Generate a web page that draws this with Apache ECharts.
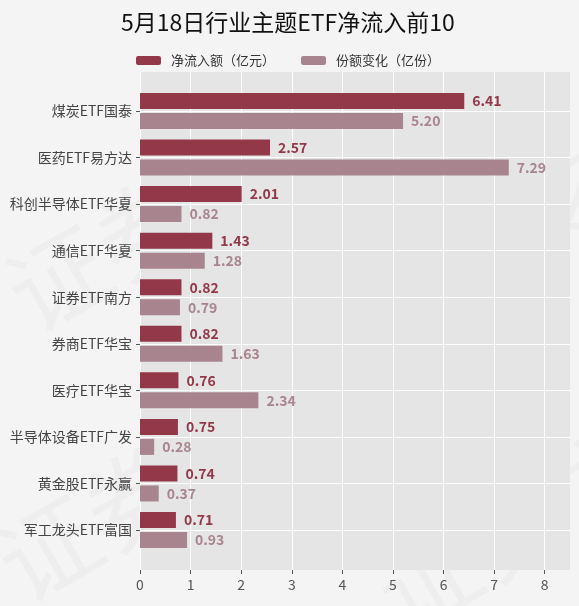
<!DOCTYPE html>
<html>
<head>
<meta charset="utf-8">
<script src="https://cdn.jsdelivr.net/npm/echarts@6/dist/echarts.min.js"></script>
<style>
    html, body { margin: 0; padding: 0; background: #f4f4f4; }
    #chart { width: 579px; height: 606px; }
</style>
</head>
<body>
<div id="chart"></div>
<script>
    const categories = ['煤炭ETF国泰', '医药ETF易方达', '科创半导体ETF华夏', '通信ETF华夏', '证券ETF南方',
        '券商ETF华宝', '医疗ETF华宝', '半导体设备ETF广发', '黄金股ETF永赢', '军工龙头ETF富国'];
    const netInflow = [6.41, 2.57, 2.01, 1.43, 0.82, 0.82, 0.76, 0.75, 0.74, 0.71];
    const shareChange = [5.20, 7.29, 0.82, 1.28, 0.79, 1.63, 2.34, 0.28, 0.37, 0.93];
    const xTicks = [0, 1, 2, 3, 4, 5, 6, 7, 8];

    const darkColor = '#923849';
    const lightColor = '#a8858e';
    const font = '"Noto Sans CJK SC", "Noto Sans", sans-serif';

    const chart = echarts.init(document.getElementById('chart'));

    // faint watermark
    const wm = (x, y) => ({
        type: 'text',
        left: x,
        top: y,
        rotation: Math.PI / 6,
        silent: true,
        z: -10,
        style: { text: '证券之星', font: '100px ' + font, fill: 'rgba(0,0,0,0.025)' }
    });

    const option = {
        backgroundColor: '#f4f4f4',
        textStyle: { fontFamily: font },
        title: {
            text: '5月18日行业主题ETF净流入前10',
            left: 116,
            top: 6,
            textStyle: { fontSize: 23, fontWeight: 'normal', color: '#111', fontFamily: font }
        },
        legend: {
            top: 49,
            left: 131,
            itemWidth: 25,
            itemHeight: 9,
            itemGap: 26,
            textStyle: { fontSize: 13, color: '#333', padding: [0, 0, 0, 5] },
            data: ['净流入额（亿元）', '份额变化（亿份）']
        },
        graphic: [wm(-10, 60), wm(330, 70), wm(-20, 330), wm(360, 360)],
        grid: [
            { left: 140, right: 9, top: 111, bottom: 76, containLabel: false },
            { left: 140, right: 9, top: 72, bottom: 36, show: true, backgroundColor: '#e5e5e5', borderWidth: 0 }
        ],
        xAxis: [
            { gridIndex: 0, type: 'value', min: 0, max: 8.5, show: false },
            {
                gridIndex: 1,
                type: 'value',
                min: 0,
                max: 8.5,
                interval: 1,
                axisLine: { show: false },
                axisTick: { show: true, length: 4, lineStyle: { color: '#555' }, customValues: xTicks },
                axisLabel: { fontSize: 14, color: '#555', margin: 8, customValues: xTicks },
                splitLine: { show: true, lineStyle: { color: '#ffffff', width: 1 } }
            }
        ],
        yAxis: [
            {
                gridIndex: 0,
                type: 'category',
                inverse: true,
                boundaryGap: false,
                data: categories,
                axisLine: { show: false },
                axisTick: { show: true, length: 4, lineStyle: { color: '#555' } },
                axisLabel: { fontSize: 14, color: '#444', margin: 8 },
                splitLine: { show: true, lineStyle: { color: '#ffffff', width: 1 } }
            },
            { gridIndex: 1, type: 'value', min: 0, max: 1, show: false }
        ],
        series: [
            {
                name: '净流入额（亿元）',
                type: 'bar',
                xAxisIndex: 0,
                yAxisIndex: 0,
                clip: false,
                barWidth: 16,
                barGap: '25%',
                itemStyle: { color: darkColor },
                label: {
                    show: true,
                    position: 'right',
                    distance: 8,
                    fontSize: 14,
                    fontWeight: 'bold',
                    color: darkColor,
                    formatter: (p) => p.value.toFixed(2)
                },
                data: netInflow
            },
            {
                name: '份额变化（亿份）',
                type: 'bar',
                xAxisIndex: 0,
                yAxisIndex: 0,
                clip: false,
                barWidth: 16,
                barGap: '25%',
                itemStyle: { color: lightColor },
                label: {
                    show: true,
                    position: 'right',
                    distance: 8,
                    fontSize: 14,
                    fontWeight: 'bold',
                    color: lightColor,
                    formatter: (p) => p.value.toFixed(2)
                },
                data: shareChange
            }
        ]
    };

    chart.setOption(option);
</script>
</body>
</html>
